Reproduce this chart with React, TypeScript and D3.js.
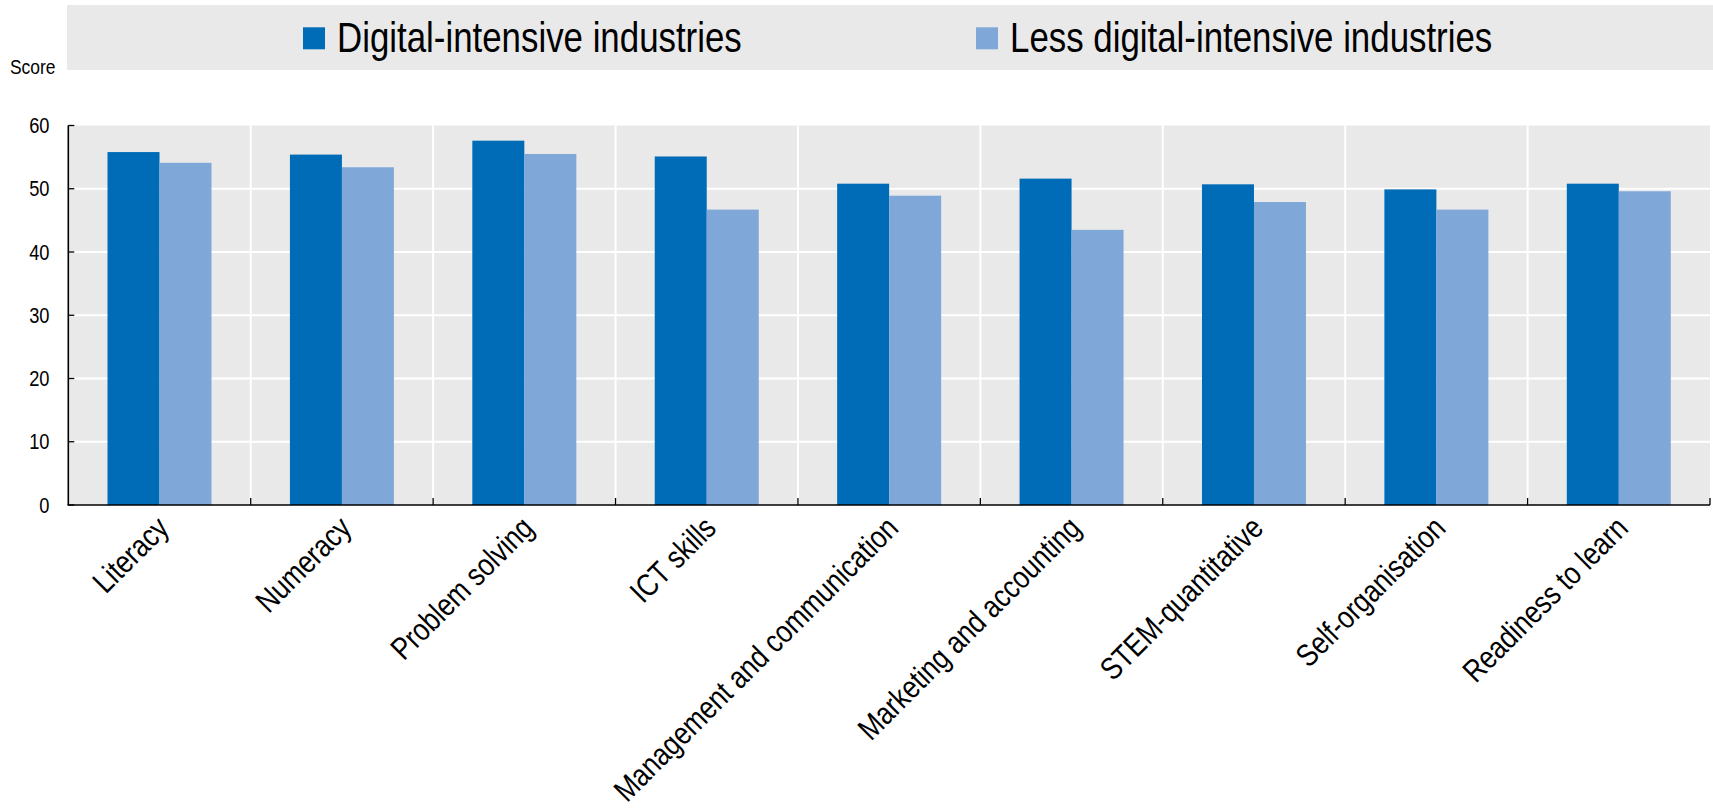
import React from "react";
import * as d3 from "d3";

const categories = [
  "Literacy",
  "Numeracy",
  "Problem solving",
  "ICT skills",
  "Management and communication",
  "Marketing and accounting",
  "STEM-quantitative",
  "Self-organisation",
  "Readiness to learn",
];
const seriesNames = ["Digital-intensive industries", "Less digital-intensive industries"];
const digital = [55.8, 55.4, 57.6, 55.1, 50.8, 51.6, 50.7, 49.9, 50.8];
const lessDigital = [54.1, 53.4, 55.5, 46.7, 48.9, 43.5, 47.9, 46.7, 49.6];
const yTicks = [0, 10, 20, 30, 40, 50, 60];
const colors = ["#006BB6", "#7FA8D9"];

const W = 1713;
const H = 810;
const left = 68.3;
const right = 1710;
const top = 125.5;
const bottom = 505;
const FONT = "'Liberation Sans', Arial, sans-serif";
const NARROW = 0.83;

function NText(props: {
  x: number;
  y: number;
  size: number;
  anchor?: string;
  rotate?: number;
  children: React.ReactNode;
}) {
  const { x, y, size, anchor = "start", rotate = 0, children } = props;
  return (
    <text
      x={0}
      y={0}
      fontSize={size}
      textAnchor={anchor}
      fill="#000"
      transform={`translate(${x},${y}) rotate(${rotate}) scale(${NARROW},1)`}
    >
      {children}
    </text>
  );
}

export default function App() {
  const x = d3.scaleBand<string>().domain(categories).range([left, right]).padding(0);
  const sub = d3
    .scaleBand<number>()
    .domain([0, 1])
    .range([0, x.step()])
    .paddingInner(0)
    .paddingOuter(0.754);
  const y = d3.scaleLinear().domain([0, 60]).range([bottom, top]);
  const series = [digital, lessDigital];
  const boundaries = d3.range(categories.length + 1).map((i) => left + i * x.step());

  return (
    <svg
      width={W}
      height={H}
      style={{ position: "fixed", left: 0, top: 0, background: "#fff" }}
      fontFamily={FONT}
    >
      {/* Legend */}
      <rect x={67} y={5} width={W - 67} height={65} fill="#E9E9E9" />
      {seriesNames.map((n, i) => {
        const lx = i === 0 ? 303 : 976;
        return (
          <g key={n}>
            <rect x={lx} y={27.3} width={22} height={22} fill={colors[i]} />
            <NText x={lx + 34} y={51.5} size={42}>
              {n}
            </NText>
          </g>
        );
      })}
      <NText x={10} y={74} size={21}>
        Score
      </NText>

      {/* Plot background */}
      <rect x={left} y={top} width={right - left} height={bottom - top} fill="#E9E9E9" />
      {yTicks.slice(1, -1).map((t) => (
        <line key={t} x1={left} x2={right} y1={y(t)} y2={y(t)} stroke="#fff" strokeWidth={2} />
      ))}
      {boundaries.slice(1, -1).map((b, i) => (
        <line key={i} x1={b} x2={b} y1={top} y2={bottom} stroke="#fff" strokeWidth={2} />
      ))}

      {/* Bars */}
      {series.map((vals, si) =>
        categories.map((c, ci) => (
          <rect
            key={si + "-" + c}
            x={(x(c) as number) + (sub(si) as number)}
            y={y(vals[ci])}
            width={sub.bandwidth()}
            height={bottom - y(vals[ci])}
            fill={colors[si]}
          />
        ))
      )}

      {/* Axes */}
      <line x1={left} x2={left} y1={top} y2={bottom} stroke="#000" strokeWidth={1.6} />
      <line x1={left - 0.8} x2={right} y1={bottom} y2={bottom} stroke="#000" strokeWidth={1.6} />
      {yTicks.map((t) => (
        <g key={t}>
          <line x1={left} x2={left + 6} y1={y(t)} y2={y(t)} stroke="#000" strokeWidth={1.3} />
          <NText x={49.5} y={y(t) + 7.5} size={22} anchor="end">
            {t}
          </NText>
        </g>
      ))}
      {boundaries.slice(1).map((b, i) => (
        <line key={i} x1={b} x2={b} y1={bottom} y2={bottom - 7} stroke="#000" strokeWidth={1.3} />
      ))}

      {/* Category labels */}
      {categories.map((c) => {
        const cx = (x(c) as number) + x.bandwidth() / 2 + 11;
        const cy = bottom + 25;
        return (
          <NText key={c} x={cx} y={cy} size={31.5} anchor="end" rotate={-45}>
            {c}
          </NText>
        );
      })}
    </svg>
  );
}
